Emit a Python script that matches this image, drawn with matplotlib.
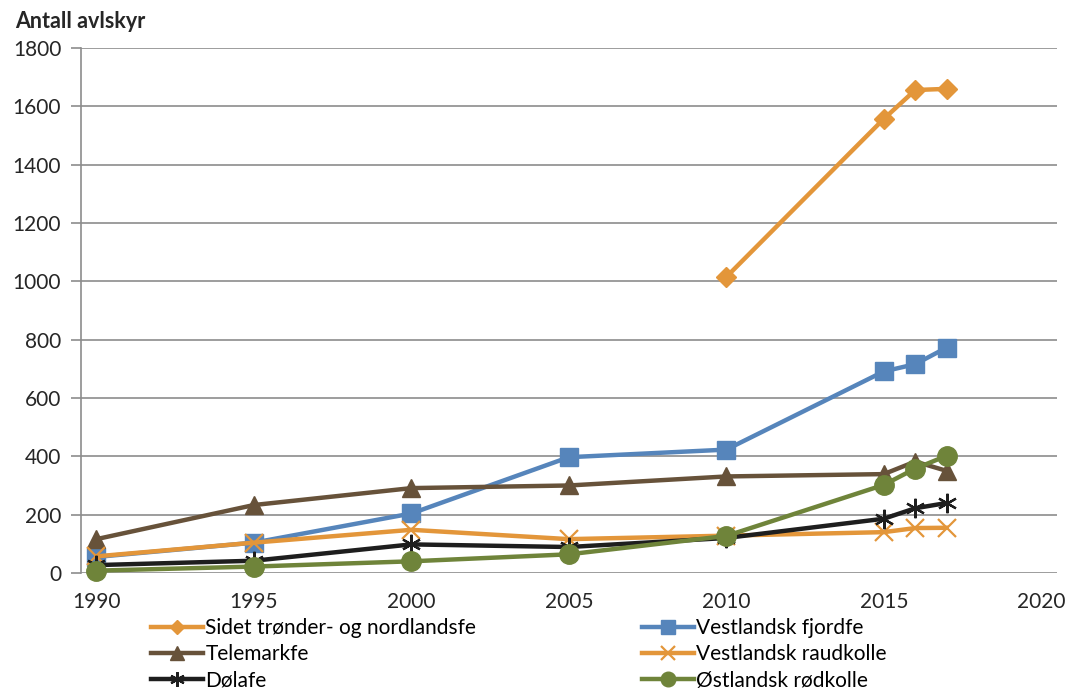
import numpy as np
import matplotlib.pyplot as plt

plt.rcParams['font.family'] = ['Lato', 'DejaVu Sans']

# Data
years = [1990, 1995, 2000, 2005, 2010, 2015, 2016, 2017]
sidet_years = [2010, 2015, 2016, 2017]
sidet = [1015, 1557, 1656, 1660]
fjordfe = [55, 104, 204, 397, 423, 691, 716, 773]
telemark = [116, 233, 291, 300, 331, 339, 382, 350]
raudkolle = [57, 104, 148, 116, 128, 140, 154, 155]
dolafe = [27, 42, 98, 89, 120, 186, 222, 240]
rodkolle = [8, 22, 40, 64, 127, 302, 358, 402]

C_ORANGE = '#E3963A'
C_BLUE = '#5685BB'
C_BROWN = '#67523A'
C_BLACK = '#1E1E1E'
C_GREEN = '#6F843A'

fig = plt.figure(figsize=(10.8, 6.9), dpi=100)
ax = fig.add_axes([0.0747, 0.1696, 0.904, 0.7608])

lw = 3.2
ax.plot(sidet_years, sidet, color=C_ORANGE, lw=lw, marker='D', ms=10,
        label='Sidet trønder- og nordlandsfe', zorder=3)
ax.plot(years, fjordfe, color=C_BLUE, lw=lw, marker='s', ms=13,
        label='Vestlandsk fjordfe', zorder=3)
ax.plot(years, telemark, color=C_BROWN, lw=lw, marker='^', ms=13,
        label='Telemarkfe', zorder=3)
ax.plot(years, raudkolle, color=C_ORANGE, lw=lw, marker='x', ms=13, mew=1.6,
        label='Vestlandsk raudkolle', zorder=3)
ax.plot(years, dolafe, color=C_BLACK, lw=lw, marker=(6, 2, 0), ms=14, mew=1.6,
        label='Dølafe', zorder=3)
ax.plot(years, rodkolle, color=C_GREEN, lw=lw, marker='o', ms=14,
        label='Østlandsk rødkolle', zorder=3)

ax.set_xlim(1989.5, 2020.5)
ax.set_ylim(0, 1800)
ax.set_xticks(np.arange(1990, 2021, 5))
ax.set_yticks(np.arange(0, 1801, 200))
ax.grid(axis='y', color='#8C8C8C', lw=1.2)
ax.set_axisbelow(True)
for s in ['top', 'right', 'bottom']:
    ax.spines[s].set_visible(False)
ax.spines['left'].set_color('#8C8C8C')
ax.spines['left'].set_linewidth(1.2)
ax.tick_params(axis='y', length=7, color='#8C8C8C', width=1.2, labelsize=15, pad=7)
ax.tick_params(axis='x', length=0, labelsize=15, pad=14)
for lab in ax.get_xticklabels() + ax.get_yticklabels():
    lab.set_color('#262626')
for ln in ax.lines:
    ln.set_clip_on(False)

fig.text(0.014, 0.960, 'Antall avlskyr', fontsize=15.5, fontweight='bold', color='#262626')

handles, labels = ax.get_legend_handles_labels()
order = [0, 2, 4, 1, 3, 5]
leg = fig.legend([handles[i] for i in order], [labels[i] for i in order],
                 loc='upper left', bbox_to_anchor=(0.140, 0.104), ncol=2,
                 frameon=False, fontsize=15, handlelength=2.5, handletextpad=0.1,
                 columnspacing=7.95, labelspacing=0.3, markerscale=0.75,
                 borderaxespad=0, borderpad=0)

fig.savefig('out.png', dpi=100)
